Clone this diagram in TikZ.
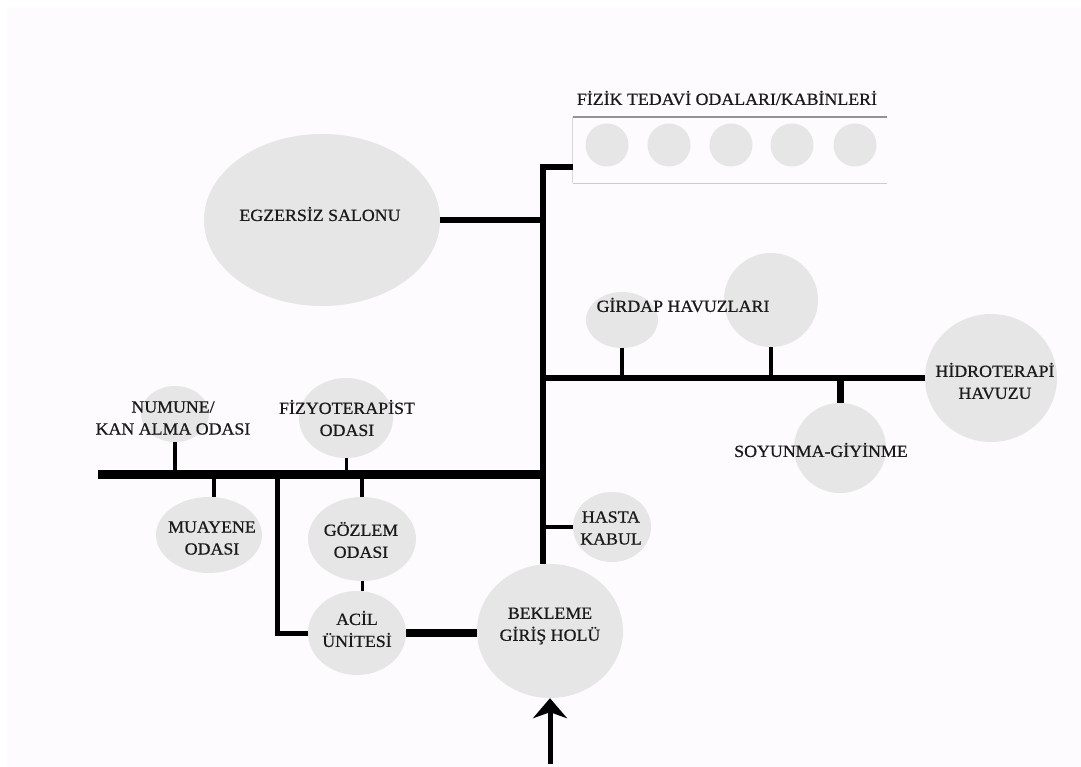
\documentclass[tikz,border=0pt]{standalone}
\usepackage{fontspec}
\setmainfont{Liberation Serif}[FakeStretch=1.05,FakeBold=0.7]
\usetikzlibrary{shapes.geometric,arrows.meta}
\definecolor{roomfill}{HTML}{E6E6E6}
\definecolor{inkc}{HTML}{1A1A1A}
\begin{document}
\begin{tikzpicture}[x=1pt,y=-1pt,
  room/.style={ellipse,fill=roomfill,draw=none,inner sep=0pt},
  lbl/.style={align=center,text=inkc,font=\fontsize{17}{22}\selectfont,inner sep=0pt},
  wA/.style={line width=6pt,draw=black},
  wB/.style={line width=9pt,draw=black},
  wC/.style={line width=4pt,draw=black},
  wD/.style={line width=3pt,draw=black},
  wE/.style={line width=8pt,draw=black},
  entryarrow/.style={line width=5pt,draw=black,-{Stealth[length=20pt,width=34pt,inset=6pt]}}
]
\useasboundingbox (0,0) rectangle (1081,767);
\fill[white] (0,0) rectangle (1081,767);
\fill[fill={rgb,255:red,253;green,251;blue,253}] (7,7) rectangle (1081,767);

% --- Fizik tedavi box ---
\node[minimum width=314pt,minimum height=66pt,inner sep=0pt] (fbox) at (730,150) {};
\draw[line width=2pt,draw=gray!85] (fbox.north west) -- (fbox.north east);
\draw[line width=1.2pt,draw=gray!40] (fbox.south west) -- (fbox.south east);
\draw[line width=1.2pt,draw=gray!30] (fbox.north west) -- (fbox.south west);
\node[lbl] (ftitle) at (727,98) {FİZİK TEDAVİ ODALARI/KABİNLERİ};
\foreach \i/\xx in {1/607,2/669,3/731,4/792,5/855}{
  \node[room,minimum width=43pt,minimum height=43pt] (cab\i) at (\xx,145) {};
}

% --- rooms ---
\node[room,minimum width=236pt,minimum height=172pt] (egz) at (322,220) {};
\node[lbl] (egzt) at (320,214) {EGZERSİZ SALONU};

\node[room,minimum width=72pt,minimum height=56pt] (gs) at (622,320) {};
\node[room,minimum width=94pt,minimum height=94pt] (gb) at (771,300) {};
\node[lbl] (girt) at (683,305) {GİRDAP HAVUZLARI};

\node[room,minimum width=132pt,minimum height=128pt] (hid) at (991,378) {};
\node[lbl] (hidt) at (995,381) {HİDROTERAPİ\\HAVUZU};

\node[room,minimum width=92pt,minimum height=90pt] (soy) at (840,448) {};
\node[lbl] (soyt) at (821,450) {SOYUNMA-GİYİNME};

\node[room,minimum width=68pt,minimum height=56pt] (num) at (175,414) {};
\node[lbl] (numt) at (173,418) {NUMUNE/\\KAN ALMA ODASI};

\node[room,minimum width=94pt,minimum height=80pt] (fiz) at (346,418) {};
\node[lbl] (fizt) at (347,418) {FİZYOTERAPİST\\ODASI};

\node[room,minimum width=106pt,minimum height=76pt] (mua) at (209,535) {};
\node[lbl] (muat) at (212,538) {MUAYENE\\ODASI};

\node[room,minimum width=108pt,minimum height=84pt] (goz) at (362,539) {};
\node[lbl] (gozt) at (361,540) {GÖZLEM\\ODASI};

\node[room,minimum width=98pt,minimum height=84pt] (aci) at (357,633) {};
\node[lbl] (acit) at (357,629) {ACİL\\ÜNİTESİ};

\node[room,minimum width=146pt,minimum height=134pt] (bek) at (550,631) {};
\node[lbl] (bekt) at (550,626) {BEKLEME\\GİRİŞ HOLÜ};

\node[room,minimum width=78pt,minimum height=70pt] (has) at (612,527) {};
\node[lbl] (hast) at (611,528) {HASTA\\KABUL};

% --- skeleton coordinates ---
\coordinate (fzc) at (573,167);
\coordinate (ttop) at (543,167);
\coordinate (tbot) at (bek.north -| ttop);
\coordinate (rb) at (543,378);
\coordinate (lm) at (98,474.5);
\coordinate (lv) at (277,474.5);
\coordinate (entry) at (550,764);

% --- connectors ---
\draw[wA] (fzc) -- (ttop) -- (tbot);
\draw[wA] (egz.east) -- (egz.east -| ttop);
\draw[wA] (rb) -- (hid.west);
\draw[wC] (gs.south) -- (gs.south |- rb);
\draw[wC] (gb.south) -- (gb.south |- rb);
\draw[line width=7pt] (soy.north) -- (soy.north |- rb);
\draw[wB] (lm) -- (lm -| ttop);
\draw[wC] (num.south) -- (num.south |- lm);
\draw[wD] (fiz.south) -- (fiz.south |- lm);
\draw[wC] ([xshift=5pt]mua.north) -- ([xshift=5pt]mua.north |- lm);
\draw[wC] (goz.north) -- (goz.north |- lm);
\draw[wD] (goz.south) -- (goz.south |- aci.north);
\draw[line width=5pt] (lv) |- (aci.west);
\draw[wE] (aci.east) -- (aci.east -| bek.west);
\draw[wC] (has.west) -- (has.west -| ttop);
\draw[entryarrow] (entry) -- (bek.south);
\end{tikzpicture}
\end{document}
